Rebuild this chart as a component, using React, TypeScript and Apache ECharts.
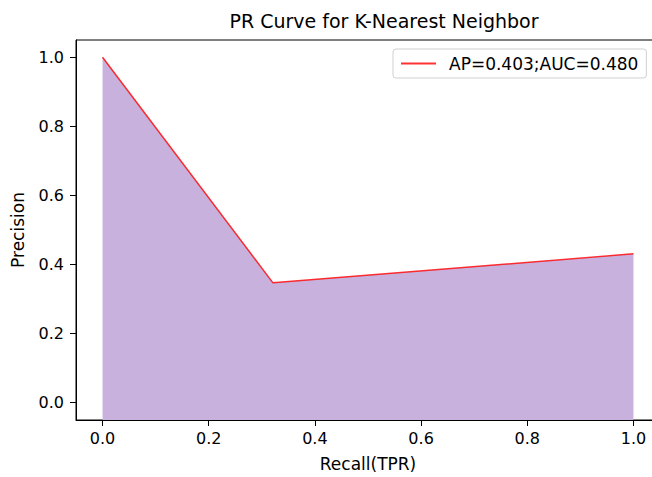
import React, { useEffect, useRef } from "react";
import * as echarts from "echarts";

const recall: number[] = [0.0, 0.321, 1.0];
const precision: number[] = [1.0, 0.347, 0.431];
const xTicks: number[] = [0.0, 0.2, 0.4, 0.6, 0.8, 1.0];
const yTicks: number[] = [0.0, 0.2, 0.4, 0.6, 0.8, 1.0];
const legendLabel = "AP=0.403;AUC=0.480";
const titleText = "PR Curve for K-Nearest Neighbor";

export default function App() {
  const ref = useRef<HTMLDivElement>(null);
  useEffect(() => {
    if (!ref.current) return;
    const chart = echarts.init(ref.current, null, { renderer: "svg" });
    const font = "DejaVu Sans";
    const data = recall.map((r, i) => [r, precision[i]]);
    chart.setOption({
      animation: false,
      backgroundColor: "#fff",
      textStyle: { fontFamily: font },
      title: {
        text: titleText,
        left: 379,
        textAlign: "center",
        top: 6,
        textStyle: { fontFamily: font, fontSize: 19, fontWeight: "normal", color: "#000" },
      },
      legend: {
        left: 393,
        top: 49,
        orient: "vertical",
        padding: [6, 8, 6, 8],
        borderColor: "#d0d0d0",
        borderWidth: 1,
        borderRadius: 3,
        itemWidth: 35,
        itemHeight: 2,
        icon: "rect",
        textStyle: { fontFamily: font, fontSize: 17, color: "#000", padding: [0, 0, 0, 8] },
        data: [legendLabel],
      },
      grid: {
        show: true,
        left: 76,
        top: 40,
        width: 584,
        height: 380,
        outerBoundsMode: "none",
        containLabel: false,
        borderColor: "#000",
        borderWidth: 1,
        backgroundColor: "transparent",
      },
      xAxis: {
        type: "value",
        min: -0.05,
        max: 1.05,
        name: "Recall(TPR)",
        nameLocation: "middle",
        nameGap: 35,
        nameTextStyle: { fontFamily: font, fontSize: 17, color: "#000" },
        axisLine: { show: true, onZero: false, lineStyle: { color: "#000" } },
        axisTick: { show: true, length: 6, lineStyle: { color: "#000" }, customValues: xTicks },
        axisLabel: {
          fontFamily: font,
          fontSize: 16,
          color: "#000",
          margin: 10,
          customValues: xTicks,
          formatter: (v: number) => v.toFixed(1),
        },
        splitLine: { show: false },
      },
      yAxis: {
        type: "value",
        min: -0.05,
        max: 1.05,
        name: "Precision",
        nameLocation: "middle",
        nameGap: 50,
        nameRotate: 90,
        nameTextStyle: { fontFamily: font, fontSize: 17, color: "#000" },
        axisLine: { show: true, onZero: false, lineStyle: { color: "#000" } },
        axisTick: { show: true, length: 6, lineStyle: { color: "#000" }, customValues: yTicks },
        axisLabel: {
          fontFamily: font,
          fontSize: 16,
          color: "#000",
          margin: 12,
          customValues: yTicks,
          formatter: (v: number) => v.toFixed(1),
        },
        splitLine: { show: false },
      },
      series: [
        {
          name: legendLabel,
          type: "line",
          data,
          showSymbol: false,
          symbol: "none",
          color: "#ff3333",
          lineStyle: { color: "rgba(255,0,0,0.8)", width: 1.5 },
          areaStyle: { color: "#c9b1de", opacity: 1, origin: "start" },
          z: 2,
        },
      ],
    });
    return () => chart.dispose();
  }, []);
  return (
    <div
      ref={ref}
      style={{ position: "fixed", left: 0, top: 0, width: 652, height: 477 }}
    />
  );
}
